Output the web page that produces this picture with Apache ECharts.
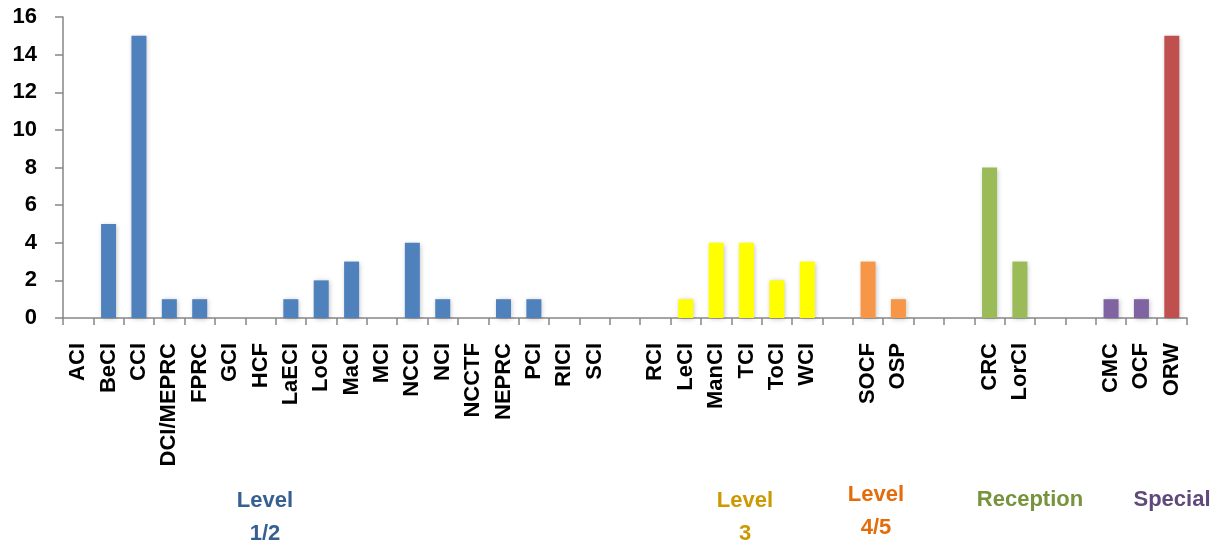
<!DOCTYPE html>
<html>
<head>
<meta charset="utf-8">
<script src="https://cdn.jsdelivr.net/npm/echarts@6/dist/echarts.min.js"></script>
<style>
html,body{margin:0;padding:0;background:#fff;}
#main{width:1222px;height:546px;}
</style>
</head>
<body>
<div id="main"></div>
<script>
// ---- data ----
var categories = ['ACI','BeCI','CCI','DCI/MEPRC','FPRC','GCI','HCF','LaECI','LoCI','MaCI','MCI','NCCI','NCI','NCCTF','NEPRC','PCI','RICI','SCI',
  '',
  'RCI','LeCI','ManCI','TCI','ToCI','WCI',
  '',
  'SOCF','OSP',
  '','',
  'CRC','LorCI',
  '','',
  'CMC','OCF','ORW'];
var values = [0,5,15,1,1,0,0,1,2,3,0,4,1,0,1,1,0,0,
  0,
  0,1,4,4,2,3,
  0,
  3,1,
  0,0,
  8,3,
  0,0,
  1,1,15];
var groups = ['L12','L12','L12','L12','L12','L12','L12','L12','L12','L12','L12','L12','L12','L12','L12','L12','L12','L12',
  '',
  'L3','L3','L3','L3','L3','L3',
  '',
  'L45','L45',
  '','',
  'REC','REC',
  '','',
  'SPC','SPC','ORW'];
var yTicks = [0,2,4,6,8,10,12,14,16];
var groupLabels = ['Level\n1/2','Level\n3','Level\n4/5','Reception','Special'];

// ---- styles ----
var barColors = {L12:'#4F81BD', L3:'#FFFF00', L45:'#F79646', REC:'#9BBB59', SPC:'#8064A2', ORW:'#C0504D', '':'#4F81BD'};
var labelStyles = [
  {x:265, y:517, color:'#376092'},
  {x:745, y:517, color:'#CC9900'},
  {x:876, y:511, color:'#E46C0A'},
  {x:1030, y:500, color:'#77933C'},
  {x:1172, y:500, color:'#604A7B'}
];
var FONT = '"Liberation Sans", Arial, sans-serif';

var chart = echarts.init(document.getElementById('main'), null, {renderer:'canvas'});

var seriesData = values.map(function(v,i){
  return {value:v, itemStyle:{color:barColors[groups[i]]}};
});

var graphics = groupLabels.map(function(t,i){
  var s = labelStyles[i];
  return {
    type:'text', x:s.x, y:s.y,
    style:{text:t, fill:s.color, font:'bold 22px ' + FONT, align:'center', verticalAlign:'middle', lineHeight:33}
  };
});

chart.setOption({
  animation:false,
  backgroundColor:'#ffffff',
  grid:{left:63, right:35, top:17, bottom:228, containLabel:false},
  xAxis:{
    type:'category',
    data:categories,
    axisLine:{show:true, lineStyle:{color:'#868686', width:1.5}},
    axisTick:{show:true, interval:0, alignWithLabel:false, length:7, lineStyle:{color:'#868686', width:1.5}},
    axisLabel:{interval:0, rotate:90, margin:25, color:'#000', fontWeight:'bold', fontSize:22, fontFamily:FONT},
    splitLine:{show:false}
  },
  yAxis:{
    type:'value',
    min:yTicks[0], max:yTicks[yTicks.length-1], interval:yTicks[1]-yTicks[0],
    axisLine:{show:true, lineStyle:{color:'#868686', width:1.5}},
    axisTick:{show:true, length:8, lineStyle:{color:'#868686', width:1.5}},
    axisLabel:{color:'#000', fontWeight:'bold', fontSize:22, fontFamily:FONT, margin:26},
    splitLine:{show:false}
  },
  series:[{
    type:'bar',
    data:seriesData,
    barWidth:15,
    itemStyle:{shadowBlur:5, shadowOffsetX:1, shadowOffsetY:1, shadowColor:'rgba(0,0,0,0.25)'}
  }],
  graphic:graphics
});
</script>
</body>
</html>
